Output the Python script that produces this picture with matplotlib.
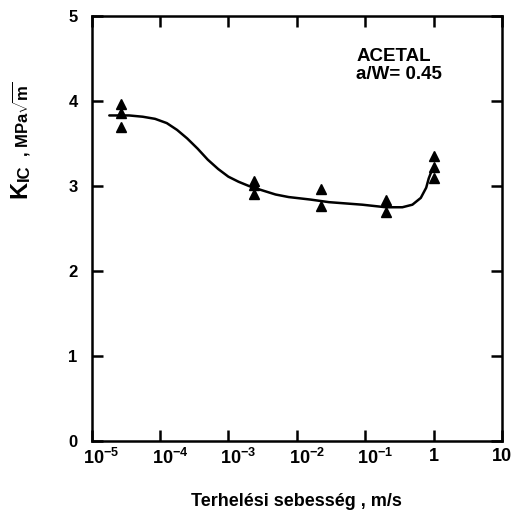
import matplotlib
matplotlib.use("Agg")
import matplotlib.pyplot as plt
import matplotlib.transforms as mtransforms
from matplotlib.ticker import FixedLocator, NullLocator

plt.rcParams['font.family'] = ['Liberation Sans', 'DejaVu Sans']
plt.rcParams['font.weight'] = 'bold'
plt.rcParams['mathtext.fontset'] = 'custom'
plt.rcParams['mathtext.rm'] = 'Liberation Sans:bold'
plt.rcParams['mathtext.bf'] = 'Liberation Sans:bold'
plt.rcParams['mathtext.it'] = 'Liberation Sans:bold'

# Measured fracture toughness (triangles)
speed_pts = [2.7e-5, 2.7e-5, 2.7e-5,
             2.4e-3, 2.4e-3, 2.4e-3,
             2.3e-2, 2.3e-2,
             0.2, 0.2,
             1.0, 1.0, 1.0]
kic_pts = [3.96, 3.86, 3.70,
           3.06, 3.01, 2.91,
           2.96, 2.76,
           2.83, 2.69,
           3.35, 3.22, 3.10]

# Fitted trend curve
speed_curve = [1.82e-5, 3.55e-5, 5.6e-5, 8.5e-5, 1.26e-4, 1.78e-4, 2.5e-4,
               3.55e-4, 5.0e-4, 7.1e-4, 1.0e-3, 1.41e-3, 2.0e-3, 3.1e-3,
               4.9e-3, 7.6e-3, 1.6e-2, 2.95e-2, 9.1e-2, 0.2, 0.35, 0.49,
               0.65, 0.78, 0.85, 0.95]
kic_curve = [3.83, 3.83, 3.815, 3.79, 3.74, 3.66, 3.56,
             3.44, 3.31, 3.20, 3.11, 3.05, 3.00, 2.95,
             2.90, 2.87, 2.84, 2.81, 2.78, 2.75, 2.75, 2.78,
             2.86, 2.98, 3.09, 3.19]

x_ticks = [1e-5, 1e-4, 1e-3, 1e-2, 1e-1, 1, 10]
x_labels = [r'$10^{-5}$', r'$10^{-4}$', r'$10^{-3}$',
            r'$10^{-2}$', r'$10^{-1}$', '1', '10']
y_ticks = [0, 1, 2, 3, 4, 5]

fig = plt.figure(figsize=(5.15, 5.13), dpi=100)
ax = fig.add_axes([91.5 / 515, 1 - 441 / 513, 410.5 / 515, 425 / 513])

ax.plot(speed_curve, kic_curve, color='black', lw=1.8, solid_capstyle='round',
        solid_joinstyle='round')
ax.plot(speed_pts, kic_pts, linestyle='none', marker='^', color='black',
        markersize=7)

ax.set_xscale('log')
ax.set_xlim(1e-5, 10)
ax.set_ylim(0, 5)
ax.xaxis.set_major_locator(FixedLocator(x_ticks))
ax.xaxis.set_minor_locator(NullLocator())
ax.set_xticklabels(x_labels)
ax.set_yticks(y_ticks)

for s in ax.spines.values():
    s.set_linewidth(1.8)
ax.tick_params(axis='both', which='major', direction='in', length=8, width=1.8,
               top=True, right=True)
ax.tick_params(axis='x', pad=5, labelsize=13)
ax.tick_params(axis='y', pad=10, labelsize=12)
shift = mtransforms.ScaledTranslation(10 / 100, 0, fig.dpi_scale_trans)
for lab in ax.get_xticklabels():
    lab.set_fontweight('bold')
    if '^' in lab.get_text():
        lab.set_transform(lab.get_transform() + shift)
for lab in ax.get_yticklabels():
    lab.set_fontweight('bold')

ax.set_xlabel('Terhelési sebesség , m/s', fontsize=13, fontweight='bold',
              labelpad=18)

# Y-axis title: large K with IC subscript, then smaller units
W, H = 515, 513
ylab_kw = dict(rotation=90, rotation_mode='anchor', ha='left', va='baseline',
               fontweight='bold')
fig.text(26 / W, 1 - 198 / H, 'K', fontsize=17, **ylab_kw)
fig.text(29 / W, 1 - 181 / H, 'IC', fontsize=12, **ylab_kw)
fig.text(27 / W, 1 - 157 / H, r', MPa$\sqrt{\mathrm{m}}$', fontsize=12,
         **ylab_kw)

ax.text(0.645, 0.925, 'ACETAL\na/W= 0.45', transform=ax.transAxes,
        fontsize=13.5, fontweight='bold', va='top', ha='left', linespacing=1.1)

fig.savefig('out.png', dpi=100)
